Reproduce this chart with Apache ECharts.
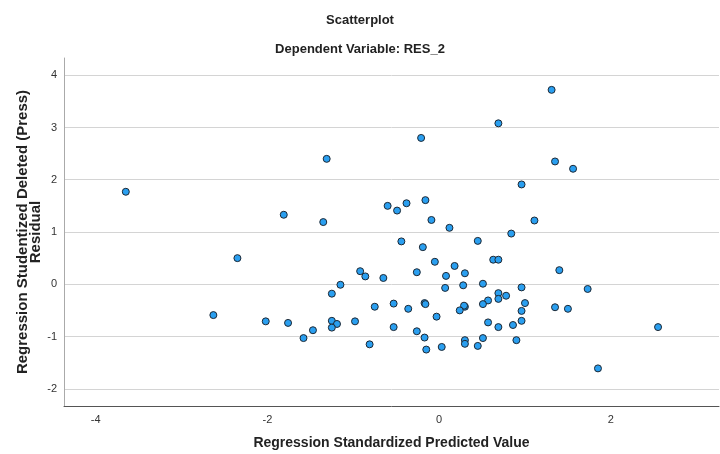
<!DOCTYPE html>
<html lang="en">
<head>
    <meta charset="UTF-8">
    <title>Scatterplot</title>
    <script src="https://cdn.jsdelivr.net/npm/echarts@6/dist/echarts.min.js"></script>
    <style>
        body { padding: 0; margin: 0; }
        #scatterChart { width: 720px; height: 454px; }
    </style>
</head>
<body>
    <div id="scatterChart"></div>

    <script>
        // standardized predicted value (x) and studentized deleted residual (y)
        const predicted = [
            -3.65, -1.31, -1.81, -1.35, -0.60, 1.31, 0.69, -0.21, 1.35, 1.56,
            0.96, -0.49, -0.38, -0.16, -0.09, 0.12, 1.11, 0.84, -0.44, 0.45,
            -0.19, -2.35, -0.92, -0.86, -0.65, -1.15, -1.25, -0.75, -2.63, -2.02,
            -1.76, -1.25, -1.19, -1.25, -0.98, -1.47, -1.58, -0.81, -0.05, 0.18,
            -0.26, 0.08, 0.30, 0.63, 0.69, 1.40, 0.07, 0.28, 0.51, 0.96,
            1.73, 0.69, 0.69, 0.78, 0.57, 0.51, 1.00, 0.96, -0.53, -0.36,
            -0.17, -0.16, 0.30, 0.29, 0.24, -0.03, 1.35, 1.50, -0.53, -0.26,
            -0.17, -0.15, 0.03, 0.30, 0.30, 0.45, 0.51, 0.57, 0.69, 0.86,
            0.96, 0.90, 1.85, 2.55
        ];
        const residual = [
            1.77, 2.40, 1.33, 1.19, 1.50, 3.72, 3.08, 2.80, 2.35, 2.21,
            1.91, 1.41, 1.55, 1.61, 1.23, 1.08, 1.22, 0.97, 0.82, 0.83,
            0.71, 0.50, 0.25, 0.15, 0.12, -0.01, -0.18, -0.43, -0.59, -0.71,
            -0.74, -0.70, -0.76, -0.83, -0.71, -0.88, -1.03, -1.15, 0.43, 0.35,
            0.23, 0.16, 0.21, 0.47, 0.47, 0.27, -0.07, -0.02, 0.01, -0.06,
            -0.09, -0.17, -0.28, -0.22, -0.31, -0.38, -0.36, -0.51, -0.37, -0.47,
            -0.36, -0.38, -0.43, -0.41, -0.50, -0.62, -0.44, -0.47, -0.82, -0.90,
            -1.02, -1.25, -1.20, -1.07, -1.14, -1.18, -1.03, -0.73, -0.82, -0.78,
            -0.70, -1.07, -1.61, -0.82
        ];

        const font = 'Arial, "Liberation Sans", sans-serif';
        const chart = echarts.init(document.getElementById('scatterChart'));
        chart.setOption({
            animation: false,
            title: [
                { text: 'Scatterplot', left: 'center', top: 9,
                  textStyle: { fontFamily: font, fontSize: 13, fontWeight: 'bold', color: '#222' } },
                { text: 'Dependent Variable: RES_2', left: 'center', top: 38,
                  textStyle: { fontFamily: font, fontSize: 13, fontWeight: 'bold', color: '#222' } }
            ],
            grid: { left: 64, right: 1, top: 58, bottom: 48, containLabel: false, outerBoundsMode: 'none' },
            xAxis: {
                type: 'value',
                min: -4.37, max: 3.26,
                minInterval: 2, maxInterval: 2,
                name: 'Regression Standardized Predicted Value',
                nameLocation: 'middle', nameGap: 30,
                nameTextStyle: { fontFamily: font, fontSize: 14, fontWeight: 'bold', color: '#222' },
                axisLine: { onZero: false, lineStyle: { color: '#555', width: 1 } },
                axisTick: { show: false },
                axisLabel: { fontFamily: font, fontSize: 11, color: '#333', margin: 8,
                             showMinLabel: false, showMaxLabel: false },
                splitLine: { show: false }
            },
            yAxis: {
                type: 'value',
                min: -2.33, max: 4.33,
                minInterval: 1, maxInterval: 1,
                name: 'Regression Studentized Deleted (Press)\nResidual',
                nameLocation: 'middle', nameGap: 22, nameMoveOverlap: false,
                nameTextStyle: { fontFamily: font, fontSize: 15, fontWeight: 'bold', color: '#222', lineHeight: 13 },
                axisLine: { show: true, onZero: false, lineStyle: { color: '#aaa', width: 1 } },
                axisTick: { show: false },
                axisLabel: { fontFamily: font, fontSize: 11, color: '#333', margin: 7,
                             showMinLabel: false, showMaxLabel: false },
                splitLine: { show: true, showMinLine: false, showMaxLine: false,
                             lineStyle: { color: '#d4d4d4', width: 1 } }
            },
            series: [{
                type: 'scatter',
                symbolSize: 7,
                data: predicted.map((x, i) => [x, residual[i]]),
                itemStyle: { color: '#2a9ff0', borderColor: '#1c2733', borderWidth: 1, opacity: 1 }
            }]
        });
    </script>
</body>
</html>
